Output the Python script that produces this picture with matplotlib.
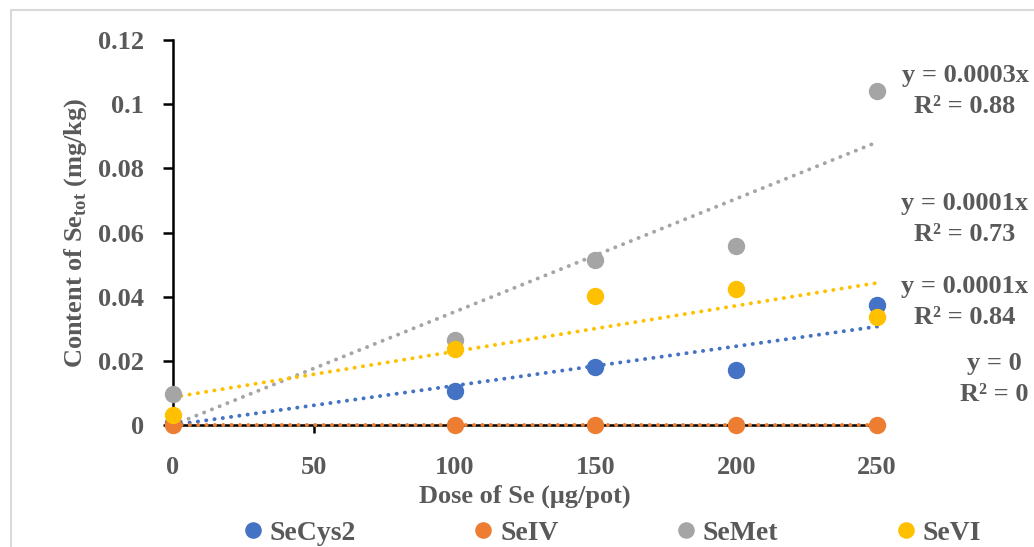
import numpy as np
import matplotlib
matplotlib.use('Agg')
import matplotlib.pyplot as plt
from matplotlib.patches import Rectangle

# data
dose = np.array([0, 100, 150, 200, 250])
secys2 = np.array([0.0005, 0.0106, 0.0181, 0.0172, 0.0374])
seiv = np.array([0.0, 0.0, 0.0, 0.0, 0.0])
semet = np.array([0.0097, 0.0265, 0.0515, 0.0559, 0.1042])
sevi = np.array([0.0031, 0.0237, 0.0402, 0.0424, 0.0337])

series = ['SeCys2', 'SeIV', 'SeMet', 'SeVI']
values = [secys2, seiv, semet, sevi]
colors = ['#4472C4', '#ED7D31', '#A5A5A5', '#FFC000']
through_origin = [True, True, True, False]

eq_labels = ['y = 0.0001x\nR² = 0.84', 'y = 0\nR² = 0',
             'y = 0.0003x\nR² = 0.88', 'y = 0.0001x\nR² = 0.73']
eq_pos = [(965, 302), (994, 379), (965, 91), (965, 219)]

xticks = [0, 50, 100, 150, 200, 250]
yticks = [0, 0.02, 0.04, 0.06, 0.08, 0.1, 0.12]
ytick_labels = ['0', '0.02', '0.04', '0.06', '0.08', '0.1', '0.12']

W, H = 1034, 547
txt = '#595959'
fs = 19
plt.rcParams['font.family'] = ['Liberation Serif', 'DejaVu Serif']
plt.rcParams['font.weight'] = 'bold'
plt.rcParams['axes.labelweight'] = 'bold'
plt.rcParams['mathtext.fontset'] = 'custom'
plt.rcParams['mathtext.rm'] = 'Liberation Serif:bold'
plt.rcParams['mathtext.bf'] = 'Liberation Serif:bold'

fig = plt.figure(figsize=(W / 100, H / 100), dpi=100)
fig.patches.append(Rectangle((11 / W, -0.1), 1.2, (H - 10) / H + 0.1,
                             transform=fig.transFigure, fill=False,
                             edgecolor='#d9d9d9', linewidth=1.5))
ax = fig.add_axes([173 / W, 1 - 425 / H, 704 / W, 385 / H])

xx = np.array([0, 250])
for name, y, c, org in zip(series, values, colors, through_origin):
    if org:
        k = np.sum(dose * y) / np.sum(dose * dose)
        fit = k * xx
    else:
        k, b = np.polyfit(dose, y, 1)
        fit = k * xx + b
    ax.plot(xx, fit, color=c, linestyle=(0, (0.05, 2.1)), linewidth=2.8,
            dash_capstyle='round', zorder=3, clip_on=False)
    ax.plot(dose, y, 'o', color=c, markersize=11.5, label=name,
            zorder=4, clip_on=False, linestyle='none')

ax.set_xlim(0, 250)
ax.set_ylim(0, 0.12)
ax.set_xticks(xticks)
ax.set_yticks(yticks)
ax.set_yticklabels(ytick_labels)
for s in ['top', 'right']:
    ax.spines[s].set_visible(False)
for s in ['left', 'bottom']:
    ax.spines[s].set_linewidth(1.8)
    ax.spines[s].set_color('black')
ax.tick_params(axis='both', direction='out', width=1.8, color='black',
               labelsize=fs, labelcolor=txt)
ax.tick_params(axis='x', length=6, pad=16)
ax.tick_params(axis='y', length=7, pad=14)

ax.set_xlabel('Dose of Se (μg/pot)', fontsize=fs, color=txt)
ax.set_ylabel('Content of Se$_{\\mathregular{tot}}$ (mg/kg)', fontsize=fs,
              color=txt)
ax.xaxis.set_label_coords(0.5, -0.155)
ax.yaxis.set_label_coords(-0.12, 0.5)

for lab, (px, py) in zip(eq_labels, eq_pos):
    fig.text(px / W, 1 - py / H, lab, ha='center', va='center',
             multialignment='center', fontsize=fs, color=txt,
             linespacing=1.4)

fig.legend(loc='center', bbox_to_anchor=(610 / W, 1 - 533 / H), ncol=4,
           frameon=False, fontsize=20, labelcolor=txt, markerscale=0.95,
           handletextpad=0.1, columnspacing=4.1, handlelength=1.0)

fig.savefig('out.png', dpi=100)
